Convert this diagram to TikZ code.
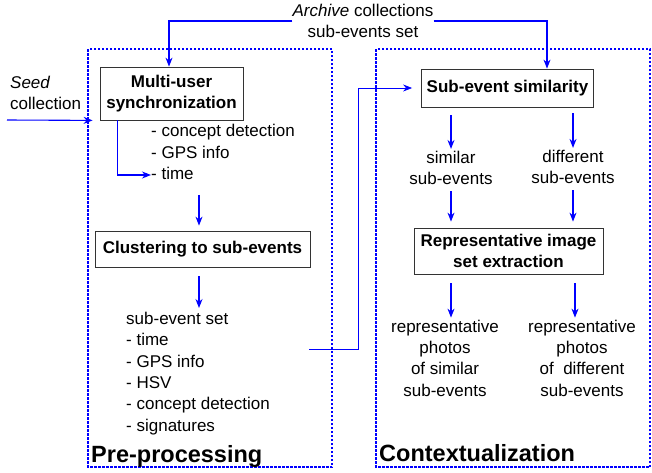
\documentclass[tikz,border=0pt]{standalone}
\usepackage{fontspec}
\setmainfont{Liberation Sans}
\usetikzlibrary{arrows.meta}
\tikzstyle{every node}=[font=\fontsize{17}{21.3}\selectfont, inner sep=0pt, text height=12pt, text depth=3.5pt]
\tikzstyle{lines}=[text height=, text depth=]
\tikzstyle{box}=[lines, draw=black!80, line width=0.8pt, align=center, font=\fontsize{17}{21}\selectfont\bfseries]
\tikzstyle{flow}=[blue, line width=1.1pt, -{Stealth[length=9pt,width=7pt]}]
\tikzstyle{stage}=[blue, line width=1.1pt, dash pattern=on 2.5pt off 1.5pt]
\tikzstyle{title}=[lines, anchor=base west, font=\fontsize{23.5}{26}\selectfont\bfseries]

\begin{document}
\begin{tikzpicture}[x=1pt, y=-1pt]
	\useasboundingbox (0,0) rectangle (652,472);
	\draw[stage] (88,49) rectangle (332,467);
	\draw[stage] (376,49) rectangle (650,467);
	\node[title] (pre) at (91,462) {Pre-processing};
	\node[title] (ctx) at (379,461) {Contextualization};

	\node[lines, align=center] (archive) at (363,21) {\textit{Archive} collections\\sub-events set};
	\node[lines, align=left, anchor=west] (seed) at (10,93) {\textit{Seed}\\collection};
	\coordinate (seedin) at (7,120);

	\node[box, minimum width=143pt, minimum height=53pt] (sync) at (171.5,93.5) {Multi-user\\synchronization};
	\node[anchor=west] (cd1) at (151,132) {- concept detection};
	\node[anchor=west] (gps1) at (151,154) {- GPS info};
	\node[anchor=west] (time1) at (151,175) {- time};
	\node[box, minimum width=215pt, minimum height=36pt] (clust) at (202.5,249) {Clustering to sub-events};
	\node[lines, anchor=north west, align=left] (subset) at (126,312) {sub-event set\\- time\\- GPS info\\- HSV\\- concept detection\\- signatures};
	\coordinate (setout) at (309,349);
	\coordinate (bendup) at (358,88);

	\node[box, minimum width=172pt, minimum height=38pt] (sim) at (507.5,88) {Sub-event similarity};
	\node[lines, align=center] (simtxt) at (451,168) {similar\\sub-events};
	\node[lines, align=center] (difftxt) at (573,167) {different\\sub-events};
	\node[box, minimum width=189pt, minimum height=46pt] (rep) at (508.5,251) {Representative image\\set extraction};
	\node[lines, align=center] (out1) at (445,358) {representative\\photos\\of similar\\sub-events};
	\node[lines, align=center] (out2) at (582,358) {representative\\photos\\of\ \ different\\sub-events};

	\draw[flow] (archive.west) -| ([xshift=-2.5pt]sync.north);
	\draw[flow] (archive.east) -| ([xshift=39.5pt]sim.north);
	\draw[flow] (seedin) -- ([xshift=-7pt]sync.south west);
	\draw[flow] ([xshift=18pt]sync.south west) |- (time1.west);
	\draw[flow, shorten <=12pt, shorten >=5pt] ([xshift=-3.5pt]clust.north |- time1.south) -- ([xshift=-3.5pt]clust.north);
	\draw[flow, shorten <=9pt, shorten >=4pt] ([xshift=-3.5pt]clust.south) -- ([xshift=-3.5pt]clust.south |- subset.north);
	\draw[flow, line width=0.8pt, shorten >=9pt] (setout) -| (bendup) -- (sim.west);
	\draw[flow, shorten <=8pt, shorten >=2pt] (simtxt.north |- sim.south) -- (simtxt.north);
	\draw[flow, shorten <=6pt, shorten >=2pt] (difftxt.north |- sim.south) -- (difftxt.north);
	\draw[flow, shorten <=6pt, shorten >=6pt] (simtxt.south) -- (simtxt.south |- rep.north);
	\draw[flow, shorten <=6pt, shorten >=6pt] (difftxt.south) -- (difftxt.south |- rep.north);
	\draw[flow, shorten <=9pt, shorten >=2pt] (simtxt.south |- rep.south) -- (simtxt.south |- out1.north);
	\draw[flow, shorten <=9pt, shorten >=2pt] ([xshift=2pt]difftxt.south |- rep.south) -- ([xshift=2pt]difftxt.south |- out2.north);
\end{tikzpicture}
\end{document}
